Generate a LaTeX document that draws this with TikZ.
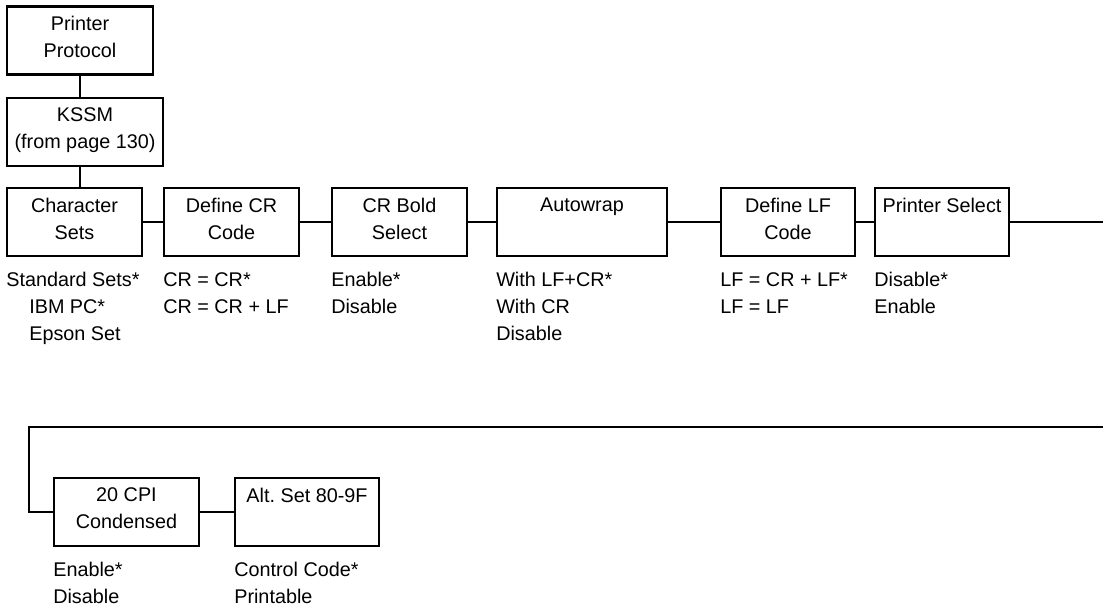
\documentclass[tikz,border=0pt]{standalone}
\usepackage{fontspec}
\setmainfont{Liberation Sans}
\frenchspacing
\begin{document}
\begin{tikzpicture}[x=0.5pt,y=-0.5pt,
  every node/.style={font=\fontsize{9.9}{13.5}\selectfont},
  menubox/.style={draw, line width=1.1pt, minimum height=34pt, align=center, inner sep=0pt, text depth=3.5pt},
  optlist/.style={anchor=north west, align=left, inner sep=0pt, yshift=-7.5pt},
  link/.style={line width=1.1pt}]
\useasboundingbox (0,0) rectangle (1103,605);

% menu boxes
\node[menubox, minimum width=73pt] (proto) at (80,40.5) {Printer\\Protocol};
\node[menubox, minimum width=78pt] (kssm) at (85,132) {KSSM\\(from page 130)};
\node[menubox, minimum width=67.5pt] (charsets) at (74.5,222) {Character\\Sets};
\node[menubox, minimum width=67.5pt] (definecr) at (231.5,222) {Define CR\\Code};
\node[menubox, minimum width=67.5pt] (crbold) at (399.5,222) {CR Bold\\Select};
\node[menubox, minimum width=85pt] (autowrap) at (582,222) {Autowrap\\~};
\node[menubox, minimum width=67pt] (definelf) at (788,222) {Define LF\\Code};
\node[menubox, minimum width=67pt] (prselect) at (942,222) {Printer Select\\~};
\node[menubox, minimum width=72.5pt] (cpi) at (126.5,512) {20 CPI\\Condensed};
\node[menubox, minimum width=72pt] (altset) at (307,512) {Alt. Set 80-9F\\~};

% option lists
\node[optlist] (charsetsopt) at (charsets.south west) {Standard Sets*\\\hspace*{11.5pt}IBM PC*\\\hspace*{11.5pt}Epson Set};
\node[optlist] (definecropt) at (definecr.south west) {CR = CR*\\CR = CR + LF};
\node[optlist] (crboldopt) at (crbold.south west) {Enable*\\Disable};
\node[optlist] (autowrapopt) at (autowrap.south west) {With LF+CR*\\With CR\\Disable};
\node[optlist] (definelfopt) at (definelf.south west) {LF = CR + LF*\\LF = LF};
\node[optlist] (prselectopt) at (prselect.south west) {Disable*\\Enable};
\node[optlist] (cpiopt) at (cpi.south west) {Enable*\\Disable};
\node[optlist] (altsetopt) at (altset.south west) {Control Code*\\Printable};

% connectors
\coordinate (rowend) at (1103,222);
\coordinate (rowstart) at (1103,427);
\coordinate (bend) at (29,427);
\draw[link] (proto.south) -- (proto.south |- kssm.north);
\draw[link] (kssm.south -| proto.south) -- (proto.south |- charsets.north);
\draw[link] (charsets) -- (definecr);
\draw[link] (definecr) -- (crbold);
\draw[link] (crbold) -- (autowrap);
\draw[link] (autowrap) -- (definelf);
\draw[link] (definelf) -- (prselect);
\draw[link] (prselect) -- (rowend);
\draw[link] (rowstart) -- (bend) |- (cpi.west);
\draw[link] (cpi) -- (altset);
\end{tikzpicture}
\end{document}
